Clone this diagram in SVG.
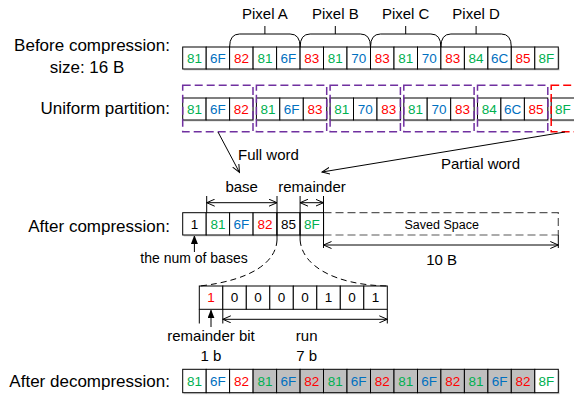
<svg xmlns="http://www.w3.org/2000/svg" width="574" height="396" viewBox="0 0 574 396">
<style>
text{font-family:"Liberation Sans",Arial,sans-serif;fill:#000}
.lbl{font-size:17px;text-anchor:end}
.t15{font-size:15px}
.t14{font-size:14px}
.c{font-size:13.5px;text-anchor:middle}
.g{fill:#00B050}.b{fill:#0070C0}.r{fill:#FF0000}.k{fill:#000}
.cell{fill:#fff;stroke:#000;stroke-width:1}
.gray{fill:#BFBFBF;stroke:#000;stroke-width:1}
.sh{fill:#d6d6d6}
.ln{stroke:#000;stroke-width:1;fill:none}
.pbox{fill:none;stroke:#7030A0;stroke-width:1.5;stroke-dasharray:8,4}
.rbox{fill:none;stroke:#FF0000;stroke-width:1.5;stroke-dasharray:8,4}
.dash{stroke:#595959;stroke-width:1.2;fill:none;stroke-dasharray:8,4}
.curve{stroke:#000;stroke-width:1;fill:none;stroke-dasharray:6,4}
</style>
<defs>
<marker id="open" markerWidth="9" markerHeight="8" refX="8" refY="4" orient="auto-start-reverse" markerUnits="userSpaceOnUse">
<path d="M0,0.5 L8,4 L0,7.5" fill="none" stroke="#000" stroke-width="1"/>
</marker>
<marker id="fill" markerWidth="8" markerHeight="10" refX="8" refY="3.5" orient="auto" markerUnits="userSpaceOnUse">
<path d="M0,0 L9,3.5 L0,7 Z" fill="#000"/>
</marker>
</defs>

<!-- Row labels -->
<g id="labels">
<text class="lbl" x="170" y="50.5">Before compression:</text>
<text x="87" y="72.5" style="font-size:17px;text-anchor:middle">size: 16 B</text>
<text class="lbl" x="170" y="114">Uniform partition:</text>
<text class="lbl" x="170" y="231.5">After compression:</text>
<text class="lbl" x="170" y="387">After decompression:</text>
</g>

<!-- Row 1: before compression -->
<g id="row-before">
<rect class="sh" x="183.7" y="48.5" width="376" height="22"/>
<rect class="cell" x="182.7" y="47" width="23.5" height="22"/><text class="c g" x="194.4" y="62.8">81</text>
<rect class="cell" x="206.2" y="47" width="23.4" height="22"/><text class="c b" x="217.9" y="62.8">6F</text>
<rect class="cell" x="229.6" y="47" width="23.5" height="22"/><text class="c r" x="241.4" y="62.8">82</text>
<rect class="cell" x="253.1" y="47" width="23.5" height="22"/><text class="c g" x="264.9" y="62.8">81</text>
<rect class="cell" x="276.6" y="47" width="23.5" height="22"/><text class="c b" x="288.3" y="62.8">6F</text>
<rect class="cell" x="300.1" y="47" width="23.4" height="22"/><text class="c r" x="311.8" y="62.8">83</text>
<rect class="cell" x="323.5" y="47" width="23.5" height="22"/><text class="c g" x="335.3" y="62.8">81</text>
<rect class="cell" x="347.0" y="47" width="23.5" height="22"/><text class="c b" x="358.7" y="62.8">70</text>
<rect class="cell" x="370.5" y="47" width="23.5" height="22"/><text class="c r" x="382.2" y="62.8">83</text>
<rect class="cell" x="394.0" y="47" width="23.5" height="22"/><text class="c g" x="405.7" y="62.8">81</text>
<rect class="cell" x="417.5" y="47" width="23.4" height="22"/><text class="c b" x="429.2" y="62.8">70</text>
<rect class="cell" x="440.9" y="47" width="23.5" height="22"/><text class="c r" x="452.7" y="62.8">83</text>
<rect class="cell" x="464.4" y="47" width="23.5" height="22"/><text class="c g" x="476.1" y="62.8">84</text>
<rect class="cell" x="487.9" y="47" width="23.4" height="22"/><text class="c b" x="499.6" y="62.8">6C</text>
<rect class="cell" x="511.3" y="47" width="23.5" height="22"/><text class="c r" x="523.1" y="62.8">85</text>
<rect class="cell" x="534.8" y="47" width="23.5" height="22"/><text class="c g" x="546.5" y="62.8">8F</text>
</g>

<!-- Pixel braces -->
<g id="pixel-A">
<path class="ln" d="M229.6,47 Q229.6,34 239.6,34 L290.1,34 Q300.1,34 300.1,47 M264.9,34 V26"/>
<text class="t15" x="264.9" y="18.5" text-anchor="middle">Pixel A</text>
</g>
<g id="pixel-B">
<path class="ln" d="M300.1,47 Q300.1,34 310.1,34 L360.5,34 Q370.5,34 370.5,47 M335.3,34 V26"/>
<text class="t15" x="335.3" y="18.5" text-anchor="middle">Pixel B</text>
</g>
<g id="pixel-C">
<path class="ln" d="M370.5,47 Q370.5,34 380.5,34 L430.9,34 Q440.9,34 440.9,47 M405.7,34 V26"/>
<text class="t15" x="405.7" y="18.5" text-anchor="middle">Pixel C</text>
</g>
<g id="pixel-D">
<path class="ln" d="M440.9,47 Q440.9,34 450.9,34 L501.3,34 Q511.3,34 511.3,47 M476.1,34 V26"/>
<text class="t15" x="476.1" y="18.5" text-anchor="middle">Pixel D</text>
</g>

<!-- Row 2: uniform partition -->
<g id="word-1">
<rect class="sh" x="183.7" y="99.5" width="70.3" height="22"/>
<rect class="cell" x="182.7" y="98" width="23.4" height="22"/><text class="c g" x="194.4" y="113.8">81</text>
<rect class="cell" x="206.1" y="98" width="23.5" height="22"/><text class="c b" x="217.9" y="113.8">6F</text>
<rect class="cell" x="229.6" y="98" width="23.4" height="22"/><text class="c r" x="241.3" y="113.8">82</text>
<rect class="pbox" x="182.7" y="85.3" width="70.3" height="46.4"/>
</g>
<g id="word-2">
<rect class="sh" x="257.4" y="99.5" width="70.3" height="22"/>
<rect class="cell" x="256.4" y="98" width="23.4" height="22"/><text class="c g" x="268.1" y="113.8">81</text>
<rect class="cell" x="279.8" y="98" width="23.5" height="22"/><text class="c b" x="291.6" y="113.8">6F</text>
<rect class="cell" x="303.3" y="98" width="23.4" height="22"/><text class="c r" x="315.0" y="113.8">83</text>
<rect class="pbox" x="256.4" y="85.3" width="70.3" height="46.4"/>
</g>
<g id="word-3">
<rect class="sh" x="331.1" y="99.5" width="70.3" height="22"/>
<rect class="cell" x="330.1" y="98" width="23.4" height="22"/><text class="c g" x="341.8" y="113.8">81</text>
<rect class="cell" x="353.5" y="98" width="23.5" height="22"/><text class="c b" x="365.3" y="113.8">70</text>
<rect class="cell" x="377.0" y="98" width="23.4" height="22"/><text class="c r" x="388.7" y="113.8">83</text>
<rect class="pbox" x="330.1" y="85.3" width="70.3" height="46.4"/>
</g>
<g id="word-4">
<rect class="sh" x="404.8" y="99.5" width="70.3" height="22"/>
<rect class="cell" x="403.8" y="98" width="23.4" height="22"/><text class="c g" x="415.5" y="113.8">81</text>
<rect class="cell" x="427.2" y="98" width="23.5" height="22"/><text class="c b" x="439.0" y="113.8">70</text>
<rect class="cell" x="450.7" y="98" width="23.4" height="22"/><text class="c r" x="462.4" y="113.8">83</text>
<rect class="pbox" x="403.8" y="85.3" width="70.3" height="46.4"/>
</g>
<g id="word-5">
<rect class="sh" x="478.5" y="99.5" width="70.3" height="22"/>
<rect class="cell" x="477.5" y="98" width="23.4" height="22"/><text class="c g" x="489.2" y="113.8">84</text>
<rect class="cell" x="500.9" y="98" width="23.5" height="22"/><text class="c b" x="512.7" y="113.8">6C</text>
<rect class="cell" x="524.4" y="98" width="23.4" height="22"/><text class="c r" x="536.1" y="113.8">85</text>
<rect class="pbox" x="477.5" y="85.3" width="70.3" height="46.4"/>
</g>
<g id="word-6">
<rect class="sh" x="552.2" y="99.5" width="23.4" height="22"/>
<rect class="cell" x="551.2" y="98" width="23.4" height="22"/><text class="c g" x="562.9" y="113.8">8F</text>
<rect class="rbox" x="551.2" y="85.3" width="40" height="46.4"/>
</g>

<!-- Row 3: after compression -->
<g id="row-after">
<rect class="sh" x="183.7" y="214.2" width="140.8" height="22.3"/>
<rect class="cell" x="182.7" y="212.7" width="23.5" height="22.3"/><text class="c k" x="194.4" y="228.7">1</text>
<rect class="cell" x="206.2" y="212.7" width="23.4" height="22.3"/><text class="c g" x="217.9" y="228.7">81</text>
<rect class="cell" x="229.6" y="212.7" width="23.5" height="22.3"/><text class="c b" x="241.4" y="228.7">6F</text>
<rect class="cell" x="253.1" y="212.7" width="23.9" height="22.3"/><text class="c r" x="265.0" y="228.7">82</text>
<rect class="cell" x="277.0" y="212.7" width="23.1" height="22.3"/><text class="c k" x="288.5" y="228.7">85</text>
<rect class="cell" x="300.1" y="212.7" width="23.4" height="22.3"/><text class="c g" x="311.8" y="228.7">8F</text>
</g>
<g id="saved-space">
<path class="dash" d="M323.5,212.7 H558.3 V235 M323.5,235 H558.3"/>
<text x="441.7" y="228.5" style="font-size:12.5px;text-anchor:middle">Saved Space</text>
</g>

<!-- Bit row -->
<g id="bits">
<rect class="cell" x="199.3" y="286" width="23.5" height="23.3"/><text class="c r" x="211.0" y="302.4">1</text>
<rect class="cell" x="222.8" y="286" width="23.5" height="23.3"/><text class="c k" x="234.5" y="302.4">0</text>
<rect class="cell" x="246.3" y="286" width="23.5" height="23.3"/><text class="c k" x="258.0" y="302.4">0</text>
<rect class="cell" x="269.8" y="286" width="23.5" height="23.3"/><text class="c k" x="281.5" y="302.4">0</text>
<rect class="cell" x="293.3" y="286" width="23.5" height="23.3"/><text class="c k" x="305.0" y="302.4">0</text>
<rect class="cell" x="316.8" y="286" width="23.5" height="23.3"/><text class="c k" x="328.5" y="302.4">1</text>
<rect class="cell" x="340.3" y="286" width="23.5" height="23.3"/><text class="c k" x="352.0" y="302.4">0</text>
<rect class="cell" x="363.8" y="286" width="23.5" height="23.3"/><text class="c k" x="375.5" y="302.4">1</text>
</g>

<!-- Row 4: after decompression -->
<g id="row-decomp">
<rect class="sh" x="183.7" y="370.8" width="376" height="23.4"/>
<rect class="cell" x="182.7" y="369.3" width="23.5" height="23.4"/><text class="c g" x="194.4" y="385.8">81</text>
<rect class="cell" x="206.2" y="369.3" width="23.4" height="23.4"/><text class="c b" x="217.9" y="385.8">6F</text>
<rect class="cell" x="229.6" y="369.3" width="23.5" height="23.4"/><text class="c r" x="241.4" y="385.8">82</text>
<rect class="gray" x="253.1" y="369.3" width="23.5" height="23.4"/><text class="c g" x="264.9" y="385.8">81</text>
<rect class="gray" x="276.6" y="369.3" width="23.5" height="23.4"/><text class="c b" x="288.3" y="385.8">6F</text>
<rect class="gray" x="300.1" y="369.3" width="23.4" height="23.4"/><text class="c r" x="311.8" y="385.8">82</text>
<rect class="gray" x="323.5" y="369.3" width="23.5" height="23.4"/><text class="c g" x="335.3" y="385.8">81</text>
<rect class="gray" x="347.0" y="369.3" width="23.5" height="23.4"/><text class="c b" x="358.7" y="385.8">6F</text>
<rect class="gray" x="370.5" y="369.3" width="23.5" height="23.4"/><text class="c r" x="382.2" y="385.8">82</text>
<rect class="gray" x="394.0" y="369.3" width="23.5" height="23.4"/><text class="c g" x="405.7" y="385.8">81</text>
<rect class="gray" x="417.5" y="369.3" width="23.4" height="23.4"/><text class="c b" x="429.2" y="385.8">6F</text>
<rect class="gray" x="440.9" y="369.3" width="23.5" height="23.4"/><text class="c r" x="452.7" y="385.8">82</text>
<rect class="gray" x="464.4" y="369.3" width="23.5" height="23.4"/><text class="c g" x="476.1" y="385.8">81</text>
<rect class="gray" x="487.9" y="369.3" width="23.4" height="23.4"/><text class="c b" x="499.6" y="385.8">6F</text>
<rect class="gray" x="511.3" y="369.3" width="23.5" height="23.4"/><text class="c r" x="523.1" y="385.8">82</text>
<rect class="cell" x="534.8" y="369.3" width="23.5" height="23.4"/><text class="c g" x="546.5" y="385.8">8F</text>
</g>

<!-- Connectors -->
<g id="connectors">
<line class="ln" x1="218" y1="132" x2="239.5" y2="172.5" marker-end="url(#open)"/>
<line class="ln" x1="565" y1="132" x2="322" y2="172" marker-end="url(#open)"/>
<path class="ln" d="M206.7,196 V212.7 M277,196 V240 M300.1,196 V240 M323.5,196 V248 M558.3,235 V248"/>
<line class="ln" x1="206.7" y1="202.7" x2="277" y2="202.7" marker-start="url(#open)" marker-end="url(#open)"/>
<line class="ln" x1="300.1" y1="202.7" x2="323.5" y2="202.7" marker-start="url(#open)" marker-end="url(#open)"/>
<line class="ln" x1="323.5" y1="245" x2="558.3" y2="245" marker-start="url(#open)" marker-end="url(#open)"/>
<line class="ln" x1="194.4" y1="252" x2="194.4" y2="236" marker-end="url(#fill)"/>
<path class="curve" d="M277,240 C276,262 252,280 200,286"/>
<path class="curve" d="M300.1,240 C302,266 335,285 387.3,286"/>
<path class="ln" d="M199.3,309.3 V323.5 M222.8,309.3 V323.5 M387.3,309.3 V323.5"/>
<line class="ln" x1="222.8" y1="319.3" x2="387.3" y2="319.3" marker-start="url(#open)" marker-end="url(#open)"/>
<line class="ln" x1="211" y1="327" x2="211" y2="310.3" marker-end="url(#fill)"/>
</g>

<!-- Annotation labels -->
<g id="annotations">
<text class="t15" x="238" y="160">Full word</text>
<text class="t15" x="441" y="169">Partial word</text>
<text class="t15" x="241.7" y="192" text-anchor="middle">base</text>
<text class="t15" x="312" y="192" text-anchor="middle">remainder</text>
<text class="t14" x="194" y="263" text-anchor="middle">the num of bases</text>
<text class="t15" x="441.7" y="265" text-anchor="middle">10 B</text>
<text class="t15" x="211" y="340.5" text-anchor="middle">remainder bit</text>
<text class="t15" x="211" y="361" text-anchor="middle">1 b</text>
<text class="t15" x="306.7" y="341" text-anchor="middle">run</text>
<text class="t15" x="306.7" y="361" text-anchor="middle">7 b</text>
</g>
</svg>
